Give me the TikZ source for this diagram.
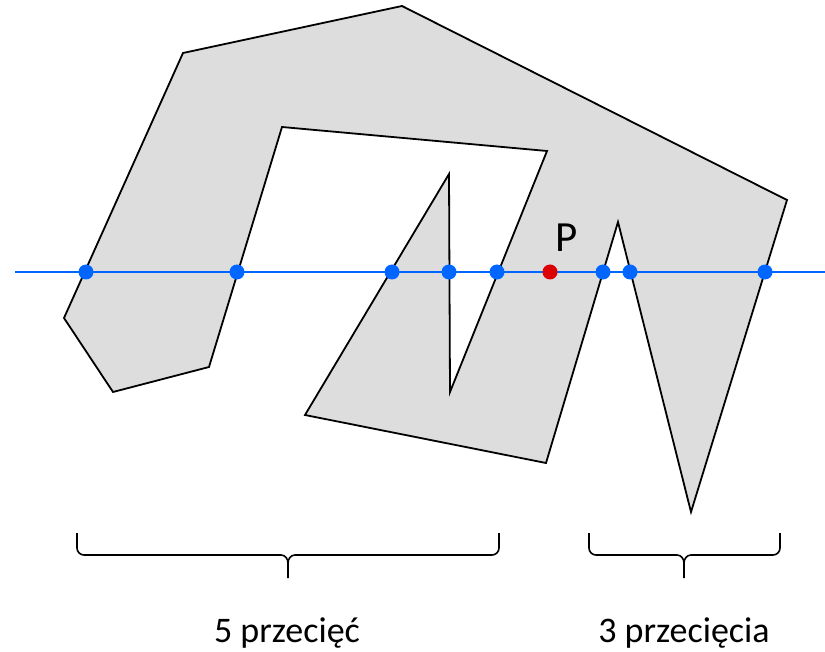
\documentclass[tikz,border=0pt]{standalone}
\usepackage{fontspec}
\setmainfont{Carlito}
\definecolor{ptblue}{RGB}{0,102,255}
\definecolor{ptred}{RGB}{220,0,0}
\definecolor{polygray}{RGB}{221,221,221}
\tikzset{
  poly/.style={draw=black, fill=polygray, line width=1.8pt, line join=miter},
  ray/.style={draw=ptblue, line width=1.8pt},
  hit/.style={circle, fill=ptblue, inner sep=0pt, minimum size=15pt},
  pointp/.style={circle, fill=ptred, inner sep=0pt, minimum size=15pt},
  bracepath/.style={draw=black, line width=1.6pt},
  lbl/.style={font=\fontsize{36}{40}\selectfont, anchor=base, inner sep=0pt},
  plbl/.style={font=\fontsize{43}{46}\selectfont, inner sep=0pt}
}
\begin{document}
\begin{tikzpicture}[x=1pt,y=-1pt]
\useasboundingbox (0,0) rectangle (825,652);
% polygon
\path[poly] (183,53) -- (402,6) -- (787,200) -- (691,512) -- (618,222) -- (546,463)
  -- (305,415) -- (449,174) -- (450,392) -- (547,151) -- (282,127) -- (209,367)
  -- (113,392) -- (64,318) -- cycle;
% ray
\coordinate (L) at (15,272);
\coordinate (R) at (825,272);
\draw[ray] (L) -- (R);
% intersection points
\node[hit] (h1) at (86,272) {};
\node[hit] (h2) at (237,272) {};
\node[hit] (h3) at (392,272) {};
\node[hit] (h4) at (449,272) {};
\node[hit] (h5) at (497,272) {};
\node[hit] (h6) at (603,272) {};
\node[hit] (h7) at (630,272) {};
\node[hit] (h8) at (765,272) {};
\node[pointp] (p) at (550,272) {};
\node[plbl] (plabel) at (567,238) {P};
% braces
\draw[bracepath] (77,533) -- (77,548) to[out=-90,in=180] (84,555) -- (281,555)
  to[out=0,in=90] (288,563) -- (288,578);
\draw[bracepath] (288,563) to[out=90,in=180] (295,555) -- (492,555)
  to[out=0,in=-90] (499,548) -- (499,533);
\draw[bracepath] (589,533) -- (589,548) to[out=-90,in=180] (596,555) -- (677,555)
  to[out=0,in=90] (684,563) -- (684,578);
\draw[bracepath] (684,563) to[out=90,in=180] (691,555) -- (773,555)
  to[out=0,in=-90] (780,548) -- (780,533);
% labels
\node[lbl] (t1) at (287,642) {5 przecięć};
\node[lbl] (t2) at (684,642) {3 przecięcia};
\end{tikzpicture}
\end{document}
